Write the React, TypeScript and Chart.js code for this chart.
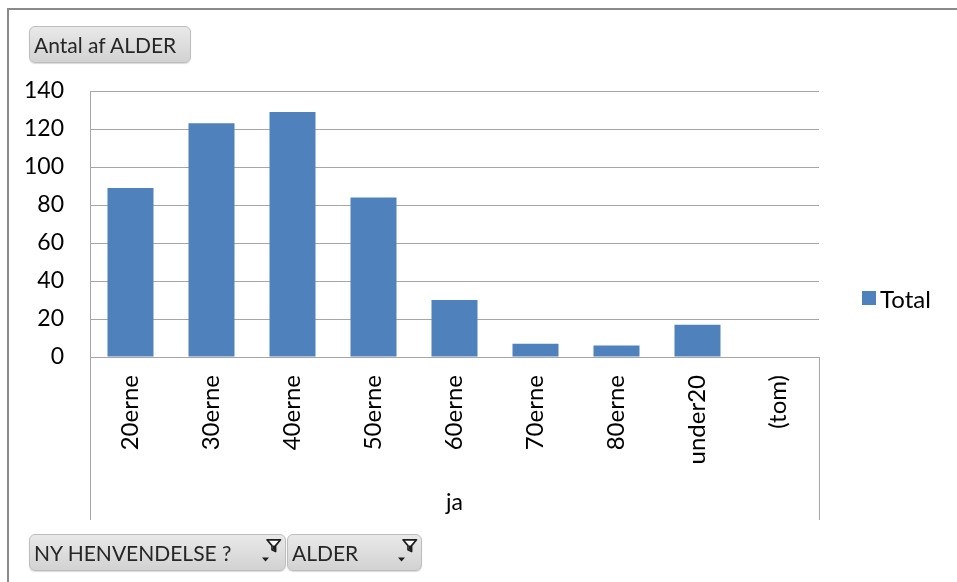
import React, { useEffect, useRef } from "react";
import { Chart, registerables } from "chart.js";

Chart.register(...registerables);

// Pivot data: count of ALDER per age group, filtered on "ja"
const categories = ["20erne", "30erne", "40erne", "50erne", "60erne", "70erne", "80erne", "under20", "(tom)"];
const totals: (number | null)[] = [89, 123, 129, 84, 30, 7, 6, 17, null];
const yTicks = [0, 20, 40, 60, 80, 100, 120, 140];
const groupLabel = "ja";
const seriesName = "Total";
const valueButton = "Antal af ALDER";
const axisButtons = ["NY HENVENDELSE ?", "ALDER"];

const BAR = "#4F81BD";
const GRID = "#a6a6a6";
const FONT = "Lato, 'Open Sans', sans-serif";

// Lines that frame the category group under the x axis
const groupFrame = {
  id: "groupFrame",
  afterDraw(chart: Chart) {
    const { ctx, chartArea } = chart;
    const bottom = 520;
    ctx.save();
    ctx.strokeStyle = GRID;
    ctx.lineWidth = 1;
    ctx.beginPath();
    ctx.moveTo(Math.round(chartArea.left) + 0.5, chartArea.bottom);
    ctx.lineTo(Math.round(chartArea.left) + 0.5, bottom);
    ctx.moveTo(Math.round(chartArea.right) + 0.5, chartArea.bottom);
    ctx.lineTo(Math.round(chartArea.right) + 0.5, bottom);
    ctx.stroke();
    ctx.restore();
  },
};

function FilterIcon() {
  return (
    <svg width="26" height="28" viewBox="0 0 26 28" style={{ position: "absolute", right: 3, top: 3 }}>
      <path d="M11 1.8 H24.5 L19.6 7.6 V13.5 L16 11.8 V7.6 Z" fill="#fff" stroke="#1e1e1e" strokeWidth="1.7" strokeLinejoin="round" />
      <path d="M17 7.5 H19 V12.5 L17 11.6 Z" fill="#1e1e1e" />
      <path d="M6 19.5 H13 L9.5 23.5 Z" fill="#1e1e1e" />
    </svg>
  );
}

function FieldButton(props: { label: string; left: number; top: number; width: number; filter?: boolean }) {
  const { label, left, top, width, filter } = props;
  return (
    <div
      style={{
        position: "absolute",
        left,
        top,
        width,
        height: 37,
        boxSizing: "border-box",
        border: "1px solid #bdbdbd",
        borderRadius: 6,
        background: "linear-gradient(#e9e9e9, #d2d2d2)",
        boxShadow: "0 1px 1px rgba(0,0,0,0.15)",
        fontFamily: FONT,
        fontSize: 21,
        color: "#262626",
        lineHeight: "35px",
        paddingLeft: 4,
        whiteSpace: "nowrap",
      }}
    >
      {label}
      {filter ? <FilterIcon /> : null}
    </div>
  );
}

export default function App() {
  const canvasRef = useRef<HTMLCanvasElement | null>(null);

  useEffect(() => {
    if (!canvasRef.current) return;
    const chart = new Chart(canvasRef.current, {
      type: "bar",
      data: {
        labels: categories,
        datasets: [
          {
            label: seriesName,
            data: totals,
            backgroundColor: BAR,
            borderWidth: 0,
            categoryPercentage: 1,
            barPercentage: 0.568,
          },
        ],
      },
      plugins: [groupFrame],
      options: {
        animation: false,
        responsive: false,
        maintainAspectRatio: false,
        layout: { padding: { top: 91, left: 0, right: 138, bottom: 0 } },
        plugins: {
          legend: { display: false },
          tooltip: { enabled: false },
        },
        scales: {
          y: {
            min: 0,
            max: 140,
            afterBuildTicks: (scale: any) => {
              scale.ticks = yTicks.map((v) => ({ value: v }));
            },
            afterFit: (scale: any) => {
              scale.width = 90;
            },
            ticks: {
              padding: 26,
              color: "#000",
              font: { family: FONT, size: 23 },
            },
            grid: { color: GRID, drawTicks: false, lineWidth: 1 },
            border: { display: true, color: GRID, width: 1 },
          },
          x: {
            afterFit: (scale: any) => {
              scale.height = 225;
            },
            ticks: {
              autoSkip: false,
              minRotation: 90,
              maxRotation: 90,
              padding: 18,
              color: "#000",
              font: { family: FONT, size: 24 },
            },
            grid: { display: false, drawTicks: false },
            border: { display: true, color: GRID, width: 1 },
            title: {
              display: true,
              text: groupLabel,
              color: "#000",
              font: { family: FONT, size: 23 },
              padding: { top: 0, bottom: 66 },
            },
          },
        },
      },
    });
    return () => chart.destroy();
  }, []);

  return (
    <div
      style={{
        position: "fixed",
        left: 0,
        top: 0,
        width: 957,
        height: 582,
        background: "#fff",
        overflow: "hidden",
      }}
    >
      <div
        style={{
          position: "absolute",
          left: 7,
          top: 8,
          width: 980,
          height: 620,
          border: "2px solid #8a8a8a",
        }}
      />
      <canvas ref={canvasRef} width={957} height={582} style={{ position: "absolute", left: 0, top: 0 }} />
      <FieldButton label={valueButton} left={29} top={26} width={162} />
      <FieldButton label={axisButtons[0]} left={29} top={534} width={257} filter />
      <FieldButton label={axisButtons[1]} left={287} top={534} width={135} filter />
      <div
        style={{
          position: "absolute",
          left: 862,
          top: 284,
          display: "flex",
          alignItems: "center",
          fontFamily: FONT,
          fontSize: 24,
          color: "#000",
          height: 28,
        }}
      >
        <span style={{ display: "inline-block", width: 14, height: 14, background: BAR, marginRight: 4 }} />
        <span>{seriesName}</span>
      </div>
    </div>
  );
}
